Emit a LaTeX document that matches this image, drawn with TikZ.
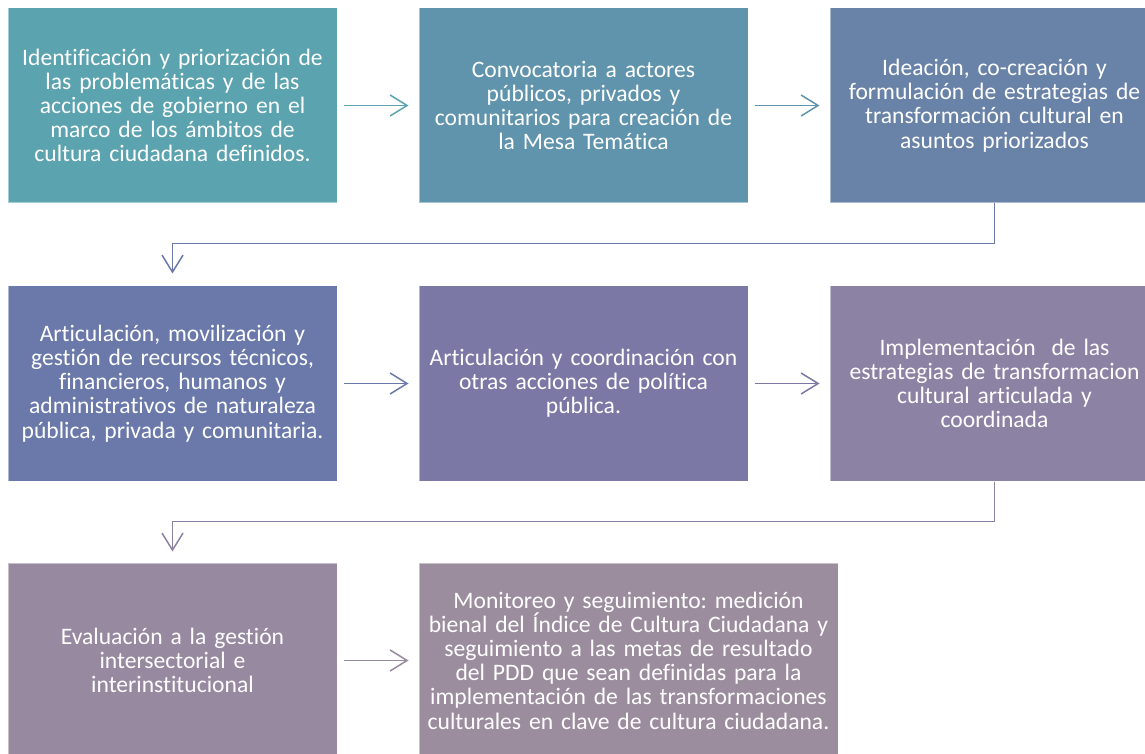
\documentclass[tikz,border=0pt]{standalone}
\usepackage{fontspec}
\setmainfont{Carlito}[Ligatures=NoCommon, WordSpace=0.85]
\frenchspacing
\definecolor{stepone}{RGB}{91,163,175}
\definecolor{steptwo}{RGB}{96,148,172}
\definecolor{stepthree}{RGB}{105,130,168}
\definecolor{stepfour}{RGB}{106,121,170}
\definecolor{stepfive}{RGB}{123,120,166}
\definecolor{stepsix}{RGB}{140,130,164}
\definecolor{stepseven}{RGB}{151,137,160}
\definecolor{stepeight}{RGB}{155,141,158}
\usetikzlibrary{arrows.meta,positioning}

\begin{document}
\begin{tikzpicture}[x=1pt, y=1pt,
    every node/.style={font=\fontsize{23.6}{24.2}\selectfont},
    stepbox/.style={rectangle, minimum width=329pt, minimum height=195pt, inner sep=0pt,
        text width=327pt, align=center, text=white, draw=white, draw opacity=0.45, line width=1pt},
    conn/.style={line width=1.5pt, -{Straight Barb[length=17pt, width=21pt]}}]
    \useasboundingbox (0,0) rectangle (1145,753);
    \clip (0,0) rectangle (1145,753);

    % First row
    \node[stepbox, fill=stepone] (ident) at (172.5,647.5)
        {Identificación y priorización de\\las problemáticas y de las\\acciones de gobierno en el\\marco de los ámbitos de\\cultura ciudadana definidos.};
    \node[stepbox, fill=steptwo] (convoc) at (583.5,647.5)
        {Convocatoria a actores\\públicos, privados y\\comunitarios para creación de\\la Mesa Temática};
    \node[stepbox, fill=stepthree] (ideac) at (994.5,647.5)
        {Ideación, co-creación y\\formulación de estrategias de\\transformación cultural en\\asuntos priorizados};

    % Second row
    \node[stepbox, fill=stepfour] (artic) at (172.5,369.5)
        {Articulación, movilización y\\gestión de recursos técnicos,\\financieros, humanos y\\administrativos de naturaleza\\pública, privada y comunitaria.};
    \node[stepbox, fill=stepfive] (coord) at (583.5,369.5)
        {Articulación y coordinación con\\otras acciones de política\\pública.};
    \node[stepbox, fill=stepsix] (implem) at (994.5,369.5)
        {Implementación\ \ de las\\estrategias de transformacion\\cultural articulada y\\coordinada};

    % Third row
    \node[stepbox, fill=stepseven] (evalu) at (172.5,92.5)
        {Evaluación a la gestión\\intersectorial e\\interinstitucional};
    \node[stepbox, fill=stepeight, minimum width=419pt, text width=417pt] (monit) at (628.5,92.5)
        {Monitoreo y seguimiento: medición\\bienal del Índice de Cultura Ciudadana y\\seguimiento a las metas de resultado\\del PDD que sean definidas para la\\implementación de las transformaciones\\culturales en clave de cultura ciudadana.};

    % Arrows
    \draw[conn, stepone, shorten <=6pt, shorten >=10pt] (ident.east) -- (convoc.west);
    \draw[conn, steptwo, shorten <=6pt, shorten >=10pt] (convoc.east) -- (ideac.west);
    \draw[conn, stepfour, shorten <=6pt, shorten >=10pt] (artic.east) -- (coord.west);
    \draw[conn, stepfive, shorten <=6pt, shorten >=10pt] (coord.east) -- (implem.west);
    \draw[conn, stepseven, shorten <=6pt, shorten >=10pt] (evalu.east) -- (monit.west);

    % Row changes
    \draw[conn, stepfour, shorten >=12pt] (ideac.south) -- ++(0,-40) -| (artic.north);
    \draw[conn, stepsix, shorten >=11pt] (implem.south) -- ++(0,-40) -| (evalu.north);
\end{tikzpicture}
\end{document}
